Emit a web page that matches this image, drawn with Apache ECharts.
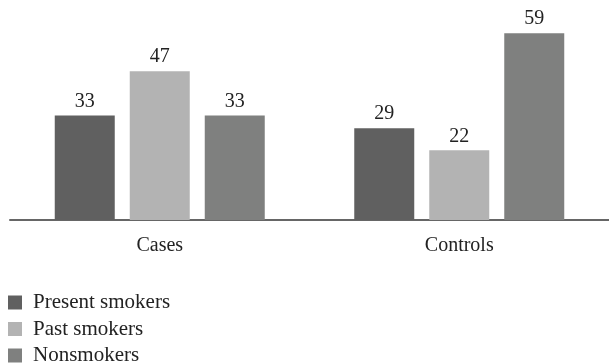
<!DOCTYPE html>
<html><head><meta charset="utf-8">
<script src="https://cdn.jsdelivr.net/npm/echarts@6/dist/echarts.min.js"></script>
<style>html,body{margin:0;padding:0;background:#fff}#c{width:609px;height:364px}</style>
</head><body><div id="c"></div>
<script>
const categories = ['Cases', 'Controls'];
const seriesNames = ['Present smokers', 'Past smokers', 'Nonsmokers'];
const presentSmokers = [33, 29];
const pastSmokers = [47, 22];
const nonsmokers = [33, 59];
const colors = ['#606060', '#b3b3b3', '#7f807f'];
const FONT = '"Liberation Serif", "DejaVu Serif", serif';

const chart = echarts.init(document.getElementById('c'));
const dataSets = [presentSmokers, pastSmokers, nonsmokers];
const legendTops = [292, 318.5, 345];
chart.setOption({
  animation: false,
  grid: { left: 10, right: -2, top: 30, bottom: 144, containLabel: false },
  legend: seriesNames.map((n, i) => ({
    orient: 'vertical', left: 8, top: legendTops[i], padding: 0,
    itemWidth: 14, itemHeight: 14,
    icon: 'rect',
    textStyle: { fontFamily: FONT, fontSize: 21, lineHeight: 14, color: '#222', padding: [0, 0, 0, 6] },
    data: [n]
  })),
  xAxis: {
    type: 'category', data: categories,
    axisLine: { lineStyle: { color: '#666', width: 2 } },
    axisTick: { show: false },
    axisLabel: { fontFamily: FONT, fontSize: 20, color: '#222', margin: 16 }
  },
  yAxis: { type: 'value', min: 0, max: 60, show: false, splitLine: { show: false } },
  series: seriesNames.map((n, i) => ({
    name: n, type: 'bar', data: dataSets[i],
    barWidth: 60, barGap: '25%',
    itemStyle: { color: colors[i] },
    label: { show: true, position: 'top', distance: 4, fontFamily: FONT, fontSize: 20, color: '#222' }
  }))
});
</script></body></html>
